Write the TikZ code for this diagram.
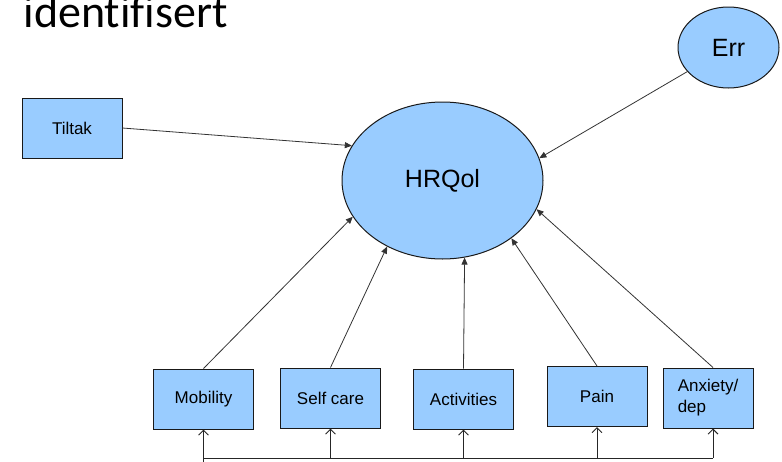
\documentclass[tikz,border=0pt]{standalone}
\usepackage{fontspec}
\setmainfont{Liberation Sans}
\newfontfamily\titlefont[Ligatures=NoCommon]{Carlito}
\usetikzlibrary{arrows.meta,shapes.geometric}
\definecolor{boxblue}{HTML}{99CCFF}

\begin{document}
\begin{tikzpicture}[x=1pt, y=-1pt,
  box/.style = {draw=black!90, line width=1pt, fill=boxblue, inner sep=0pt,
                minimum width=100pt, minimum height=60pt,
                font=\fontsize{17}{21}\selectfont},
  latent/.style = {draw=black!90, line width=1pt, fill=boxblue, ellipse, inner sep=0pt,
                font=\fontsize{25}{30}\selectfont},
  effect/.style = {draw=black!80, line width=0.8pt, -{Triangle[length=7pt,width=6pt]}},
  feed/.style = {draw=black!85, line width=0.9pt, -{Straight Barb[length=5pt,width=10pt]}}]

\useasboundingbox (0, 0) rectangle (782, 461);

\node[anchor=base west, font=\titlefont\fontsize{46}{52}\selectfont] (title) at (20, 27) {identifisert};

\node[latent, minimum width=201pt, minimum height=157pt] (hrqol) at (442.5, 180.5) {HRQol};
\node[latent, minimum width=101pt, minimum height=81pt] (err) at (728.5, 47.5) {Err};

\node[box] (tiltak) at (72, 128) {Tiltak};

\node[box] (mob) at (203.5, 399) {Mobility};
\node[box] (self) at (330.5, 398) {Self care};
\node[box] (act) at (463.5, 399) {Activities};
\node[box] (pain) at (597, 396.5) {Pain};
\node[box, minimum width=90pt, align=left] (anx) at (708, 398) {Anxiety/\\dep};

\coordinate (bus) at (0, 458);
\coordinate (bot) at (0, 462);

\draw[effect] (tiltak.east) -- (hrqol.159);
\draw[effect] (err) -- (hrqol.13);
\draw[effect] (mob.north) -- (hrqol.-158);
\draw[effect] (self.north) -- (hrqol.-130);
\draw[effect] (act.north) -- (hrqol.-74);
\draw[effect] (pain.north) -- (hrqol.-40);
\draw[effect] ([xshift=5pt]anx.north) -- (hrqol.-17);

% feedback line under the boxes
\draw[draw=black!85, line width=0.9pt] (mob.south |- bus) -- ([xshift=5pt]anx.south |- bus);
\draw[feed] (mob.south |- bot) -- (mob.south);
\foreach \n in {self, act, pain}
  \draw[feed] (\n.south |- bus) -- (\n.south);
\draw[feed] ([xshift=5pt]anx.south |- bus) -- ([xshift=5pt]anx.south);

\end{tikzpicture}
\end{document}
